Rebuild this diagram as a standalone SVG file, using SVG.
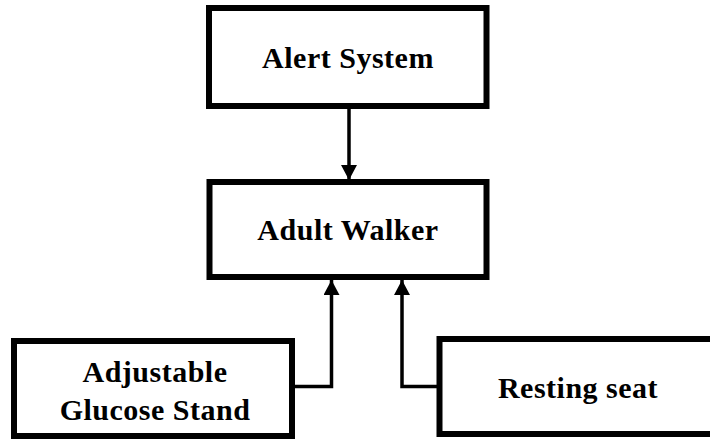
<svg xmlns="http://www.w3.org/2000/svg" width="710" height="439" viewBox="0 0 710 439">
<style>
.box{fill:#fff;stroke:#000;stroke-width:6}
.lbl{font-family:"Liberation Serif","Times New Roman",serif;font-weight:bold;font-size:30px;fill:#000;text-anchor:middle;letter-spacing:0.5px}
.conn{fill:none;stroke:#000;stroke-width:3.5}
</style>
<defs>
<marker id="arr" markerUnits="userSpaceOnUse" markerWidth="18" markerHeight="16" refX="15" refY="8" orient="auto">
<path d="M0,0 L15,8 L0,16 Z" fill="#000"/>
</marker>
</defs>
<rect width="710" height="439" fill="#fff"/>
<g id="alert-system">
<rect class="box" x="209" y="8" width="277.5" height="98"/>
<text class="lbl" x="348" y="68">Alert System</text>
</g>
<g id="adult-walker">
<rect class="box" x="209.5" y="182" width="277" height="95"/>
<text class="lbl" x="348" y="240">Adult Walker</text>
</g>
<g id="glucose-stand">
<rect class="box" x="14" y="341" width="278" height="95"/>
<text class="lbl" x="155" y="382">Adjustable</text>
<text class="lbl" x="155" y="420">Glucose Stand</text>
</g>
<g id="resting-seat">
<rect class="box" x="439.5" y="339" width="280" height="95"/>
<text class="lbl" x="578" y="398">Resting seat</text>
</g>
<g id="connectors">
<path class="conn" d="M349,109 L349,180" marker-end="url(#arr)"/>
<path class="conn" d="M292,386.5 L331.5,386.5 L331.5,280" marker-end="url(#arr)"/>
<path class="conn" d="M437,386.5 L402,386.5 L402,280" marker-end="url(#arr)"/>
</g>
</svg>
